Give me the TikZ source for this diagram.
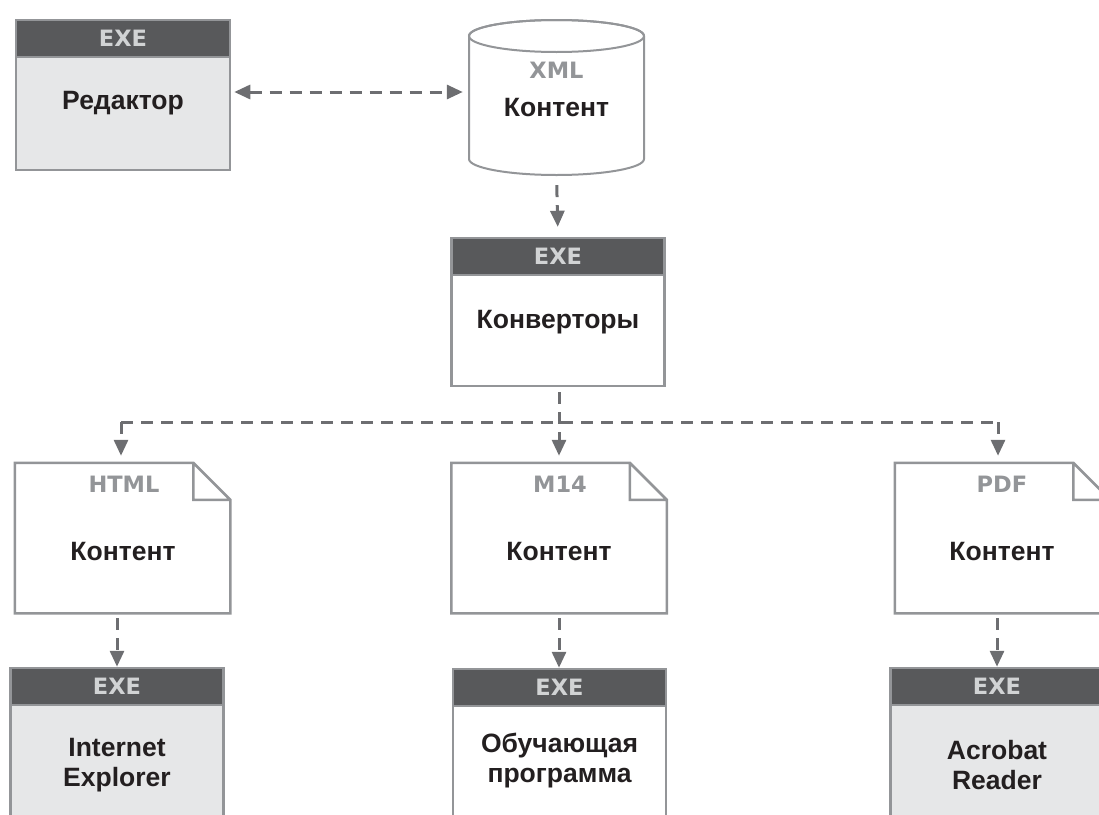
\documentclass[tikz,border=0pt]{standalone}
\usepackage{fontspec}
\setmainfont{Liberation Sans}
\newfontfamily\hdrfont{DejaVu Sans}
\usepackage{tikz}
\usetikzlibrary{arrows.meta}

\definecolor{hdrgray}{HTML}{58595B}
\definecolor{hdrtext}{HTML}{D1D3D4}
\definecolor{fmttext}{HTML}{939598}
\definecolor{linegray}{HTML}{939598}
\definecolor{arrowgray}{HTML}{6D6E71}
\definecolor{palefill}{HTML}{E6E7E8}
\definecolor{ink}{HTML}{231F20}

\begin{document}
\begin{tikzpicture}[x=1pt, y=-1pt,
  >={Triangle[width=14pt, length=16pt]},
  box/.style={draw=linegray, line width=2.5pt, minimum width=213pt,
    minimum height=148pt, inner sep=0pt},
  head/.style={draw=linegray, line width=2.5pt, fill=hdrgray, minimum width=213pt,
    minimum height=37pt, inner sep=0pt, anchor=north, text=hdrtext,
    font=\hdrfont\bfseries\fontsize{22.5}{22}\selectfont},
  lbl/.style={font=\bfseries\fontsize{26.5}{30}\selectfont, text=ink, align=center},
  fmt/.style={font=\hdrfont\bfseries\fontsize{22.5}{22}\selectfont, text=fmttext},
  link/.style={draw=arrowgray, line width=3pt, dash pattern=on 12pt off 8pt},
]
\useasboundingbox (0,0) rectangle (1099,814);
\clip (0,0) rectangle (1099,814);

% editor and xml store
\node[box, fill=palefill, minimum width=214pt, minimum height=150pt] (editor) at (123,95) {};
\node[head, minimum width=214pt] (editorhd) at (editor.north) {EXE};
\node[lbl] (editortxt) at (123,103) {Редактор};

\node[minimum width=175pt, minimum height=155pt, inner sep=0pt] (xmlstore) at (556.5,97.5) {};
\draw[linegray, line width=2pt, fill=white]
  (469,36) -- (469,159) arc[start angle=180, end angle=360, x radius=87.5pt, y radius=16pt]
  -- (644,36) arc[start angle=0, end angle=180, x radius=87.5pt, y radius=16pt] -- cycle;
\draw[linegray, line width=2pt] (556.5,36) ellipse[x radius=87.5pt, y radius=16pt];
\node[fmt] (xmltag) at (556.5,70) {XML};
\node[lbl] (xmltxt) at (556.5,108) {Контент};

% converters
\node[box, fill=white] (convert) at (558,312) {};
\node[head] (converthd) at (convert.north) {EXE};
\node[lbl] (converttxt) at (558,322) {Конверторы};

% documents
\node[box, draw=none] (htmldoc) at (122.5,538) {};
\node[box, draw=none] (m14doc) at (559,538) {};
\node[box, draw=none] (pdfdoc) at (1002.5,538) {};
\foreach \d in {htmldoc, m14doc, pdfdoc}
  \draw[linegray, line width=2.5pt, fill=white]
    (\d.north west) -- ([xshift=-37pt]\d.north east) -- ([yshift=-37pt]\d.north east)
    -- (\d.south east) -- (\d.south west) -- cycle
    ([xshift=-37pt]\d.north east) |- ([yshift=-37pt]\d.north east);
\node[fmt] (htmltag) at (124,484) {HTML};
\node[lbl] (htmltxt) at (123,552) {Контент};
\node[fmt] (m14tag) at (560,484) {M14};
\node[lbl] (m14txt) at (559,552) {Контент};
\node[fmt] (pdftag) at (1002,484) {PDF};
\node[lbl] (pdftxt) at (1002,552) {Контент};

% viewers
\node[box, fill=palefill] (iebox) at (117,742) {};
\node[head] (iehd) at (iebox.north) {EXE};
\node[lbl] (ietxt) at (117,765) {Internet\\Explorer};
\node[box, fill=white] (tutorbox) at (559.5,743) {};
\node[head] (tutorhd) at (tutorbox.north) {EXE};
\node[lbl] (tutortxt) at (559.5,761) {Обучающая\\программа};
\node[box, fill=palefill] (acrobox) at (997,742) {};
\node[head] (acrohd) at (acrobox.north) {EXE};
\node[lbl] (acrotxt) at (997,765) {Acrobat\\Reader};

% connectors
\coordinate (lefttap) at (121,422);
\coordinate (righttap) at (998,422);
\draw[link, <->, shorten <=3pt, shorten >=6pt]
  ([yshift=3pt]editor.east) -- ([yshift=3pt]editor.east -| xmlstore.west);
\draw[link, ->, shorten <=10pt, shorten >=10pt] (xmlstore.south) -- (converthd.north);
\draw[link, ->, shorten <=5pt, shorten >=7pt] (convert.south -| m14doc.north) -- (m14doc.north);
\draw[link] (lefttap) -- (righttap);
\draw[link, ->, shorten >=7pt] (lefttap) -- (lefttap |- htmldoc.north);
\draw[link, ->, shorten >=7pt] (righttap) -- (righttap |- pdfdoc.north);
\draw[link, ->, shorten <=5pt] (htmldoc.south -| iebox.north) -- (iehd.north);
\draw[link, ->, shorten <=5pt] (m14doc.south) -- (m14doc.south |- tutorhd.north);
\draw[link, ->, shorten <=5pt] (pdfdoc.south -| acrobox.north) -- (acrohd.north);
\end{tikzpicture}
\end{document}
